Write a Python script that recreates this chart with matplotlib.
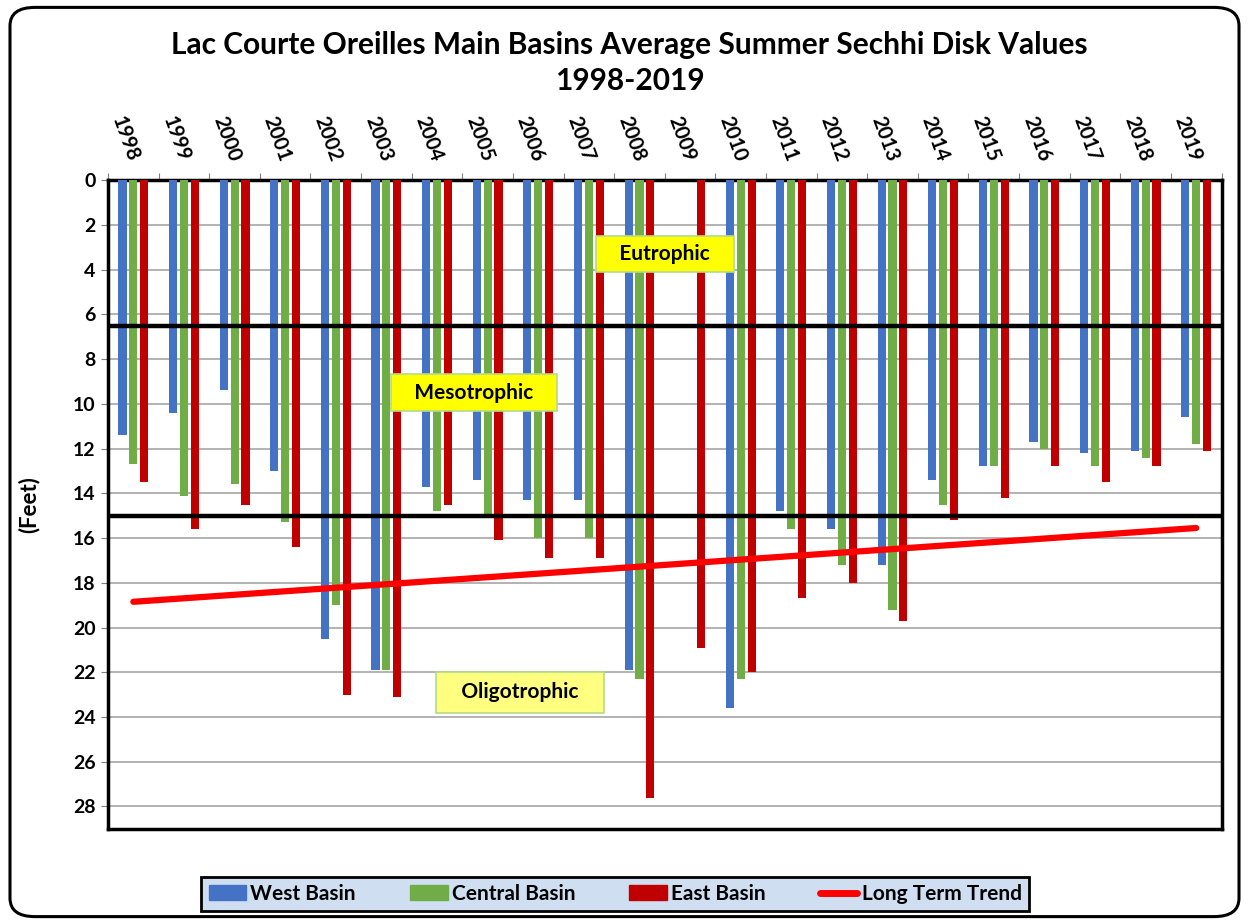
import numpy as np
import matplotlib
matplotlib.use("Agg")
from matplotlib import pyplot as plt
from matplotlib.patches import FancyBboxPatch
from matplotlib.lines import Line2D
from matplotlib.patches import Patch

# -------------------- Data --------------------
years = [str(y) for y in range(1998, 2020)]
west_basin = [11.4, 10.4, 9.4, 13.0, 20.5, 21.9, 13.7, 13.4, 14.3, 14.3, 21.9,
              np.nan, 23.6, 14.8, 15.6, 17.2, 13.4, 12.8, 11.7, 12.2, 12.1, 10.6]
central_basin = [12.7, 14.1, 13.6, 15.3, 19.0, 21.9, 14.8, 15.1, 16.0, 16.0, 22.3,
                 np.nan, 22.3, 15.6, 17.2, 19.2, 14.5, 12.8, 12.0, 12.8, 12.4, 11.8]
east_basin = [13.5, 15.6, 14.5, 16.4, 23.0, 23.1, 14.5, 16.1, 16.9, 16.9, 27.6,
              20.9, 22.0, 18.7, 18.0, 19.7, 15.2, 14.2, 12.8, 13.5, 12.8, 12.1]
trend_years = ["1998", "2019"]
trend_values = [18.85, 15.55]
eutrophic_limit = 6.5
oligotrophic_limit = 15.0

FONT = "Lato"
BLUE, GREEN, RED = "#4472C4", "#70AD47", "#C00000"

# -------------------- Plot --------------------
fig = plt.figure(figsize=(12.49, 9.24), dpi=100)
ax = fig.add_axes([0.0865, 0.103, 0.8915, 0.702])

x = np.arange(len(years))
w = 0.16
off = 0.215
ax.bar(x - off, west_basin, width=w, color=BLUE, zorder=3)
ax.bar(x, central_basin, width=w, color=GREEN, zorder=3)
ax.bar(x + off, east_basin, width=w, color=RED, zorder=3)

trend_x = [years.index(y) for y in trend_years]
ax.plot(trend_x, trend_values, color="#FF0000", lw=4.5, solid_capstyle="round", zorder=5)

ax.axhline(eutrophic_limit, color="black", lw=3.2, zorder=4)
ax.axhline(oligotrophic_limit, color="black", lw=3.2, zorder=4)

ax.set_xlim(-0.5, len(years) - 0.5)
ax.set_ylim(29, 0)
ax.set_yticks(np.arange(0, 29, 2))
ax.yaxis.grid(True, color="#A6A6A6", lw=1.2, zorder=0)
ax.set_axisbelow(True)
for lbl in ax.get_yticklabels():
    lbl.set_fontfamily(FONT)
    lbl.set_fontweight("bold")
    lbl.set_fontsize(14)
ax.tick_params(axis="y", length=5, color="#808080", pad=4)

# x axis on top: tick marks between groups, labels at group centres
ax.xaxis.tick_top()
ax.set_xticks(np.arange(-0.5, len(years), 1))
ax.set_xticklabels([])
ax.set_xticks(x, minor=True)
ax.set_xticklabels(years, minor=True, rotation=-70, rotation_mode="anchor",
                   ha="right", va="center", fontfamily=FONT, fontweight="bold",
                   fontsize=14.5)
ax.tick_params(axis="x", which="major", length=5, color="#808080", top=True)
ax.tick_params(axis="x", which="minor", length=0, pad=14, top=True)

for s in ax.spines.values():
    s.set_linewidth(2.5)
    s.set_color("black")

ax.set_ylabel("(Feet)", fontfamily=FONT, fontweight="bold", fontsize=16, labelpad=24)

# zone labels
box_kw = dict(ha="center", va="center", fontfamily=FONT, fontweight="bold", fontsize=15, zorder=6)
ax.text(10.5, 3.3, "   Eutrophic   ",
        bbox=dict(boxstyle="square,pad=0.4", fc="#FFFF00", ec="#B5D98A", lw=1.2), **box_kw)
ax.text(6.73, 9.5, "   Mesotrophic   ",
        bbox=dict(boxstyle="square,pad=0.4", fc="#FFFF00", ec="#B5D98A", lw=1.2), **box_kw)
ax.text(7.64, 22.9, "   Oligotrophic   ",
        bbox=dict(boxstyle="square,pad=0.5", fc="#FFFF80", ec="#B5D98A", lw=1.2), **box_kw)

# title
fig.text(0.504, 0.951, "Lac Courte Oreilles Main Basins Average Summer Sechhi Disk Values",
         ha="center", va="center", fontfamily=FONT, fontweight="bold", fontsize=21.5)
fig.text(0.504, 0.912, "1998-2019", ha="center", va="center", fontfamily=FONT,
         fontweight="bold", fontsize=21.5)

# legend
handles = [Patch(color=BLUE), Patch(color=GREEN), Patch(color=RED),
           Line2D([0], [0], color="#FF0000", lw=5, solid_capstyle="round")]
labels = ["West Basin", "Central Basin", "East Basin", "Long Term Trend"]
leg = fig.legend(handles, labels, loc="center", bbox_to_anchor=(0.4925, 0.0325), ncol=4,
                 prop={"family": FONT, "weight": "bold", "size": 15},
                 frameon=True, fancybox=False, edgecolor="black", facecolor="#CFDFF1",
                 handlelength=1.8, handletextpad=0.2, columnspacing=2.6,
                 borderpad=0.35)
leg.get_frame().set_linewidth(2)
leg.get_frame().set_alpha(1)

# chart area border
border = FancyBboxPatch((0.008, 0.008), 0.984, 0.984, boxstyle="round,pad=0,rounding_size=0.02",
                        transform=fig.transFigure, fc="none", ec="black", lw=2.2)
fig.patches.append(border)

fig.savefig("out.png", dpi=100)
